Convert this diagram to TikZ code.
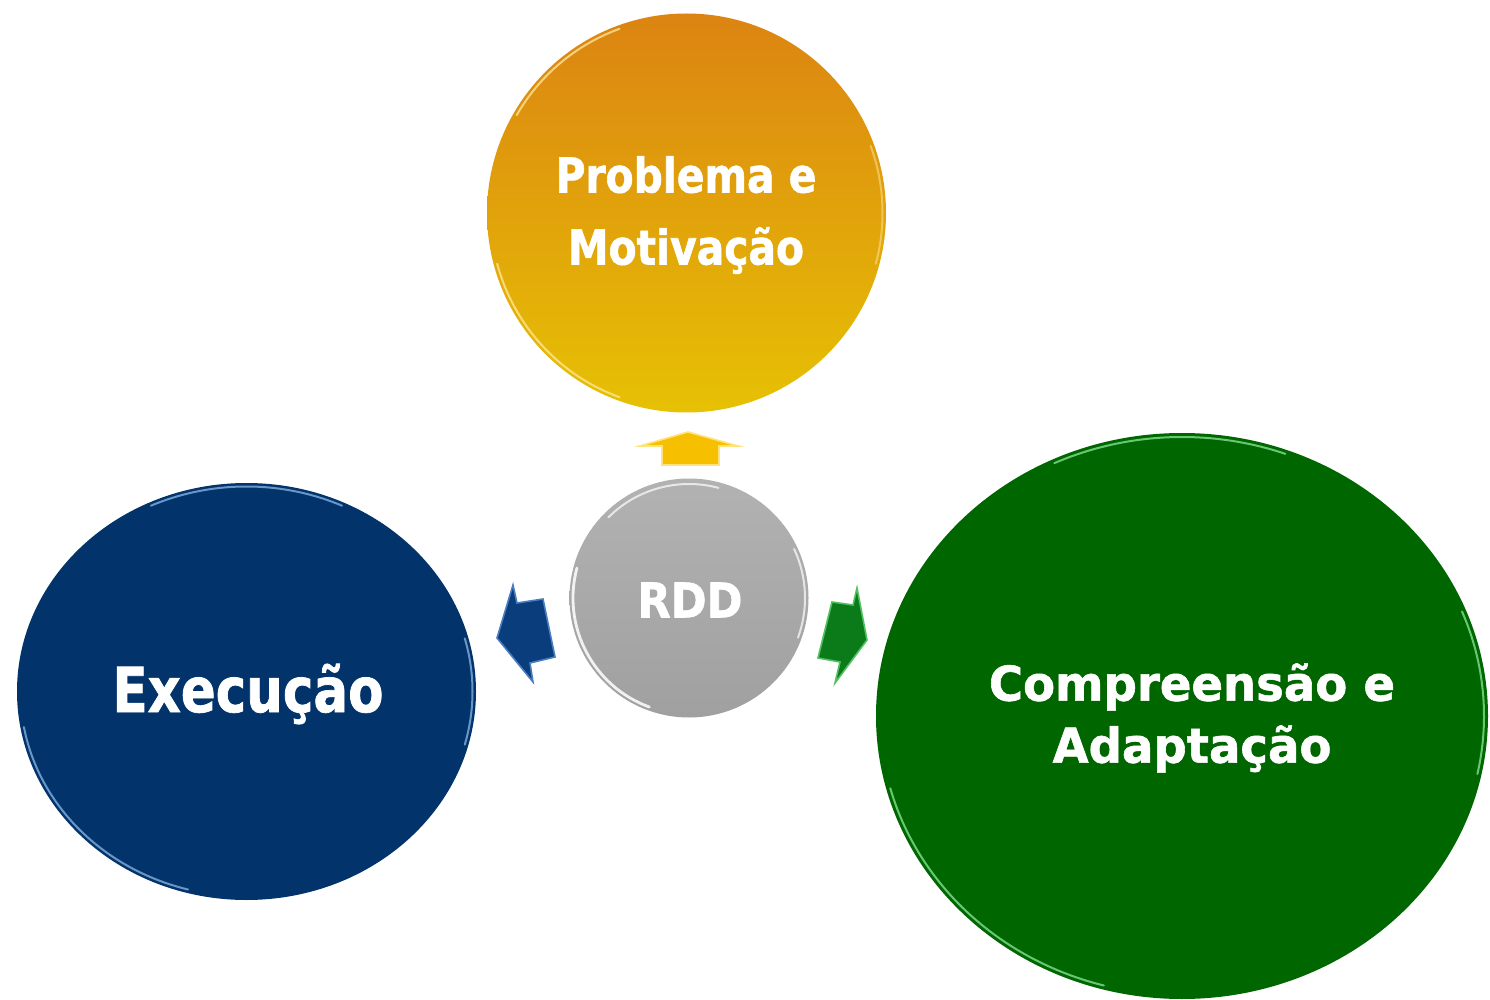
\documentclass[tikz,border=0pt]{standalone}
\usepackage{fontspec}
\usetikzlibrary{shapes.geometric}
\newfontfamily\fP{DejaVu Sans}[FakeStretch=0.85,FakeBold=1.2]
\newfontfamily\fE{DejaVu Sans}[FakeStretch=0.83,FakeBold=1.2]
\newfontfamily\fC{DejaVu Sans}[FakeStretch=0.97,FakeBold=1.2]
\newfontfamily\fR{DejaVu Sans}[FakeStretch=0.90,FakeBold=1.2]
\definecolor{orTop}{HTML}{DC8412}
\definecolor{orBot}{HTML}{E6C104}
\definecolor{orRim}{HTML}{FFE9A0}
\definecolor{navy}{HTML}{02336A}
\definecolor{navRim}{HTML}{8CB8E8}
\definecolor{grn}{HTML}{006600}
\definecolor{grnRim}{HTML}{8AE89A}
\definecolor{gyTop}{HTML}{B2B2B2}
\definecolor{gyBot}{HTML}{A0A0A0}
\definecolor{yelA}{HTML}{F6C000}
\definecolor{yelE}{HTML}{FFE27A}
\definecolor{bluA}{HTML}{0A3D7C}
\definecolor{bluE}{HTML}{4A7EC0}
\definecolor{grnA}{HTML}{0B7A18}
\definecolor{grnE}{HTML}{52C060}
\tikzset{
  lbl/.style={text=white, align=center, inner sep=0pt},
  rim/.style={line width=1pt, opacity=0.75, line cap=round},
  barrow/.style={line width=0.8pt, line join=miter}
}
\begin{document}
\begin{tikzpicture}[x=0.5pt,y=-0.5pt]
\useasboundingbox (0,0) rectangle (1490,1000);
\clip (0,0) rectangle (1490,1000);
\fill[white] (0,0) rectangle (1490,1000);

% shapes
\node[circle, minimum size=199.5pt, inner sep=0pt, top color=orTop, bottom color=orBot] (prob) at (686.5,213) {};
\node[ellipse, minimum width=229.5pt, minimum height=208.5pt, inner sep=0pt, fill=navy] (exec) at (246.5,691.5) {};
\node[ellipse, minimum width=306pt, minimum height=283pt, inner sep=0pt, fill=grn] (comp) at (1182,716) {};
\node[circle, minimum size=119.5pt, inner sep=0pt, top color=gyTop, bottom color=gyBot] (rdd) at (689,598) {};

% rim highlights (orange)
\draw[rim, draw=orRim] ([shift={(195:98pt)}]prob.center) arc[start angle=195, end angle=250, radius=98pt];
\draw[rim, draw=orRim] ([shift={(110:98pt)}]prob.center) arc[start angle=110, end angle=150, radius=98pt];
\draw[rim, draw=orRim, opacity=0.5] ([shift={(-15:98pt)}]prob.center) arc[start angle=-15, end angle=20, radius=98pt];
% rim highlights (blue)
\draw[rim, draw=navRim] ([shift={(190:113pt and 102.5pt)}]exec.center) arc[start angle=190, end angle=255, x radius=113pt, y radius=102.5pt];
\draw[rim, draw=navRim] ([shift={(65:113pt and 102.5pt)}]exec.center) arc[start angle=65, end angle=115, x radius=113pt, y radius=102.5pt];
\draw[rim, draw=navRim] ([shift={(-15:113pt and 102.5pt)}]exec.center) arc[start angle=-15, end angle=15, x radius=113pt, y radius=102.5pt];
% rim highlights (green)
\draw[rim, draw=grnRim] ([shift={(195:151pt and 139.5pt)}]comp.center) arc[start angle=195, end angle=255, x radius=151pt, y radius=139.5pt];
\draw[rim, draw=grnRim] ([shift={(70:151pt and 139.5pt)}]comp.center) arc[start angle=70, end angle=115, x radius=151pt, y radius=139.5pt];
\draw[rim, draw=grnRim] ([shift={(-12:151pt and 139.5pt)}]comp.center) arc[start angle=-12, end angle=22, x radius=151pt, y radius=139.5pt];
% rim highlights (grey)
\draw[rim, draw=white, opacity=0.85, line width=1.4pt] ([shift={(165:58pt)}]rdd.center) arc[start angle=165, end angle=250, radius=58pt];
\draw[rim, draw=white, opacity=0.7] ([shift={(75:57pt)}]rdd.center) arc[start angle=75, end angle=135, radius=57pt];
\draw[rim, draw=white, opacity=0.7] ([shift={(-20:58pt)}]rdd.center) arc[start angle=-20, end angle=25, radius=58pt];

% labels
\node[lbl, font=\fP\bfseries\fontsize{24}{36}\selectfont] (tprob) at (686,215) {Problema e\\Motivação};
\node[lbl, font=\fE\bfseries\fontsize{31}{38}\selectfont] (texec) at (248,694) {Execução};
\node[lbl, font=\fC\bfseries\fontsize{24}{31}\selectfont] (tcomp) at (1192,718) {Compreensão e\\Adaptação};
\node[lbl, font=\fR\bfseries\fontsize{24}{30}\selectfont] (trdd) at (690,600) {RDD};

% block arrows
\coordinate (ytip) at (688,432);
\filldraw[barrow, fill=yelA, draw=yelE] (ytip) -- (738,446) -- (719,446) -- (719,465) -- (662,465) -- (662,446) -- (640,446) -- cycle;
\coordinate (btip) at (497,638);
\filldraw[barrow, fill=bluA, draw=bluE] (btip) -- (513,585) -- (517,603) -- (543,599) -- (555,657) -- (530,663) -- (533,682) -- cycle;
\coordinate (gtip) at (867,640);
\filldraw[barrow, fill=grnA, draw=grnE] (gtip) -- (835,683) -- (840,662) -- (818,658) -- (832,602) -- (853,605) -- (857,588) -- cycle;
\end{tikzpicture}
\end{document}
